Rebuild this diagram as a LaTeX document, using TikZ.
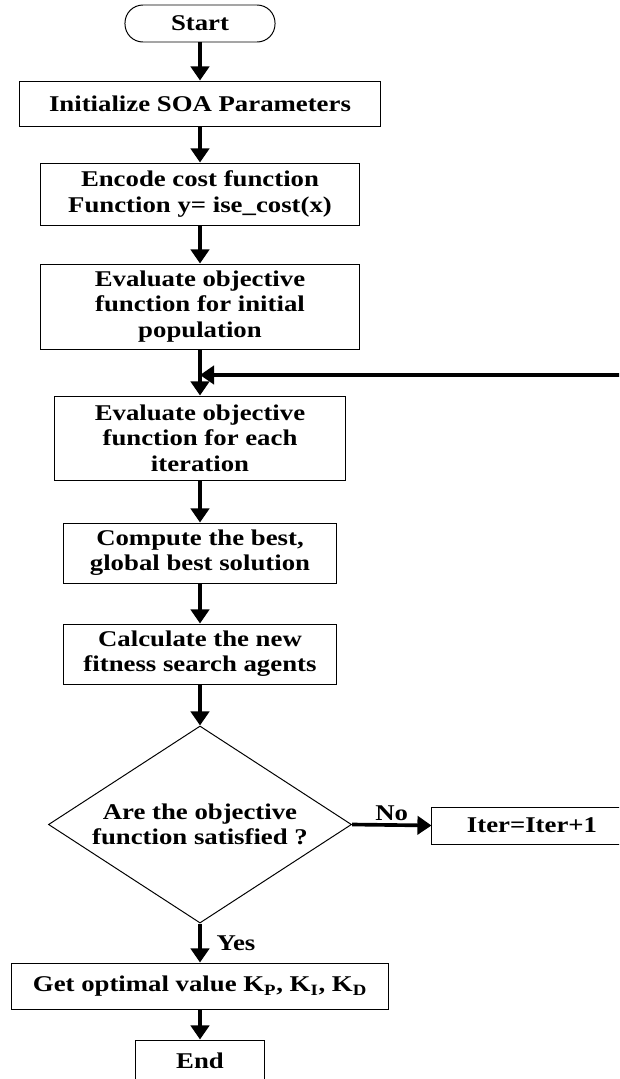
\documentclass[tikz,border=0pt]{standalone}
\usepackage{fontspec}
\setmainfont{Liberation Serif}[FakeStretch=1.19]
\usetikzlibrary{arrows.meta,shapes.geometric}

\begin{document}
\begin{tikzpicture}[x=0.025cm,y=-0.025cm,
  procbox/.style={draw,line width=0.7pt,align=center,inner sep=0pt,
    font=\fontsize{16}{18}\selectfont\bfseries},
  termbox/.style={procbox,rounded corners=0.45cm},
  decbox/.style={procbox,diamond,aspect=1.54},
  flow/.style={-{Triangle[length=10pt,width=13pt]},line width=2.6pt},
  flowlabel/.style={font=\fontsize{16}{18}\selectfont\bfseries,inner sep=2pt}
]
\useasboundingbox (0,0) rectangle (619,1079);
\clip (0,0) rectangle (619,1079);
\node[termbox,minimum width=3.75cm,minimum height=0.925cm] (start) at (200,23.5) {Start};
\node[procbox,minimum width=9cm,minimum height=1.125cm] (init) at (200,103.5)
  {Initialize SOA Parameters};
\node[procbox,minimum width=7.975cm,minimum height=1.55cm] (enc) at (200,194)
  {Encode cost function\\Function y= ise\_cost(x)};
\node[procbox,minimum width=7.975cm,minimum height=2.125cm] (evi) at (200,306.5)
  {Evaluate objective\\function for initial\\population};
\node[procbox,minimum width=7.275cm,minimum height=2.1cm] (eve) at (200,438)
  {Evaluate objective\\function for each\\iteration};
\node[procbox,minimum width=6.825cm,minimum height=1.5cm] (comp) at (200,553)
  {Compute the best,\\global best solution};
\node[procbox,minimum width=6.825cm,minimum height=1.5cm] (calc) at (200,654)
  {Calculate the new\\fitness search agents};
\node[decbox,minimum width=7.575cm,minimum height=4.925cm] (dec) at (200,824.5)
  {Are the objective\\function satisfied ?};
\node[procbox,minimum width=5cm,minimum height=0.925cm] (iter) at (532,825.5)
  {Iter=Iter+1};
\node[procbox,minimum width=9.425cm,minimum height=1.15cm] (get) at (200,986)
  {Get optimal value K\textsubscript{P}, K\textsubscript{I}, K\textsubscript{D}};
\node[procbox,minimum width=3.225cm,minimum height=1.05cm] (end) at (200,1061) {End};
\coordinate (merge) at (200,375);
\draw[flow] (start.south) -- (init.north);
\draw[flow] (init.south) -- (enc.north);
\draw[flow] (enc.south) -- (evi.north);
\draw[flow] (evi.south) -- (eve.north);
\draw[flow] (eve.south) -- (comp.north);
\draw[flow] (comp.south) -- (calc.north);
\draw[flow] (calc.south) -- (dec.north);
\draw[flow] (dec.east) -- node[flowlabel,above] {No} (iter.west);
\draw[flow] (iter.east) -- ++(40,0) |- (merge);
\draw[flow] (dec.south) -- node[flowlabel,right=0.3cm] {Yes} (get.north);
\draw[flow] (get.south) -- (end.north);
\end{tikzpicture}
\end{document}
